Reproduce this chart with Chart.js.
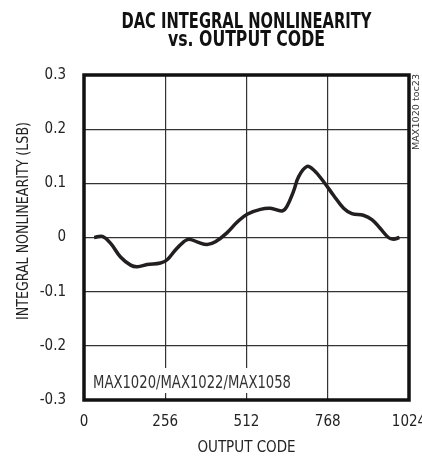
<!DOCTYPE html>
<html>
<head>
<meta charset="utf-8">
<script src="https://cdn.jsdelivr.net/npm/chart.js@4.4.0/dist/chart.umd.min.js"></script>
<style>
  html, body { margin: 0; padding: 0; background: #fff; }
  canvas { display: block; }
</style>
</head>
<body>
<canvas id="inlChart" width="422" height="458"></canvas>
<script>
// values
const outputCode = [32, 58, 84, 115, 147, 168, 199, 241, 262, 288, 314, 330, 356, 388, 414, 451, 482, 514, 556, 587, 624, 639, 660, 676, 702, 723, 755, 786, 818, 844, 880, 907, 933, 959, 975, 994];
const inlLsb = [0, 0.002, -0.011, -0.036, -0.051, -0.054, -0.05, -0.047, -0.041, -0.023, -0.008, -0.003, -0.008, -0.013, -0.008, 0.009, 0.028, 0.043, 0.052, 0.054, 0.049, 0.057, 0.085, 0.112, 0.131, 0.125, 0.103, 0.078, 0.054, 0.044, 0.041, 0.033, 0.017, 0, -0.003, 0];
const xTicks = [0, 256, 512, 768, 1024];
const yTicks = [-0.3, -0.2, -0.1, 0, 0.1, 0.2, 0.3];

const titleLines = ['DAC INTEGRAL NONLINEARITY', 'vs. OUTPUT CODE'];
const yTitle = 'INTEGRAL NONLINEARITY (LSB)';
const partLabel = 'MAX1020/MAX1022/MAX1058';
const tocLabel = 'MAX1020 toc23';

const FONT = "'Liberation Sans Narrow', 'DejaVu Sans Condensed', 'Liberation Sans', sans-serif";

// draw text squeezed to a given width (the original uses a condensed face)
function fitText(ctx, text, x, y, width) {
    const w = ctx.measureText(text).width;
    ctx.save();
    ctx.translate(x, y);
    if (w > width) ctx.scale(width / w, 1);
    ctx.fillText(text, 0, 0);
    ctx.restore();
}

const extras = {
    id: 'extras',
    beforeDatasetsDraw(chart) {
        const ctx = chart.ctx;
        const a = chart.chartArea;
        // white patch behind the part number, it cuts the grid lines
        ctx.save();
        ctx.fillStyle = '#fff';
        ctx.fillRect(a.left + 5, a.bottom - 32, 208, 25);
        ctx.fillStyle = '#333';
        ctx.font = '17px ' + FONT;
        ctx.textAlign = 'left';
        ctx.textBaseline = 'alphabetic';
        fitText(ctx, partLabel, a.left + 9, a.bottom - 12, 198);
        ctx.restore();
    },
    afterDatasetsDraw(chart) {
        const ctx = chart.ctx;
        const a = chart.chartArea;
        ctx.save();
        ctx.strokeStyle = '#111';
        ctx.lineWidth = 3.5;
        ctx.strokeRect(a.left, a.top, a.right - a.left, a.bottom - a.top);
        ctx.restore();
    },
    afterDraw(chart) {
        const ctx = chart.ctx;
        const a = chart.chartArea;
        const cx = (a.left + a.right) / 2;
        ctx.save();
        ctx.fillStyle = '#111';
        ctx.font = 'bold 21px ' + FONT;
        ctx.textAlign = 'center';
        ctx.textBaseline = 'middle';
        fitText(ctx, titleLines[0], cx, 22.5, 250);
        fitText(ctx, titleLines[1], cx, 41, 157);

        // y axis title, sits a bit above the plot centre in the original
        ctx.fillStyle = '#222';
        ctx.font = '16px ' + FONT;
        ctx.save();
        ctx.translate(24, 221);
        ctx.rotate(-Math.PI / 2);
        fitText(ctx, yTitle, 0, 0, 198);
        ctx.restore();

        // small rotated figure id on the right
        ctx.translate(416.5, 112);
        ctx.rotate(-Math.PI / 2);
        ctx.font = '9px ' + FONT;
        const w = ctx.measureText(tocLabel).width;
        ctx.scale(76 / w, 1);
        ctx.fillStyle = '#333';
        ctx.fillText(tocLabel, 0, 0);
        ctx.restore();
    }
};

const ctx = document.getElementById('inlChart');
const inlChart = new Chart(ctx, {
    type: 'line',
    data: {
        datasets: [{
            data: outputCode.map((c, i) => ({ x: c, y: inlLsb[i] })),
            borderColor: '#231f20',
            borderWidth: 3.5,
            pointRadius: 0,
            tension: 0.4,
            fill: false
        }]
    },
    options: {
        responsive: false,
        animation: false,
        layout: {
            autoPadding: false,
            padding: { left: 0, right: 13, top: 75, bottom: 0 }
        },
        plugins: {
            legend: { display: false },
            title: { display: false },
            tooltip: { enabled: false }
        },
        scales: {
            x: {
                type: 'linear',
                min: 0,
                max: 1024,
                afterBuildTicks: s => { s.ticks = xTicks.map(v => ({ value: v })); },
                afterFit: s => { s.height = 58; s.paddingLeft = 0; s.paddingRight = 0; },
                grid: { color: '#333', lineWidth: 1.2, drawTicks: false },
                border: { display: false },
                ticks: {
                    padding: 13,
                    color: '#222',
                    maxRotation: 0,
                    autoSkip: false,
                    font: { family: FONT, size: 15 },
                    callback: v => String(v)
                },
                title: {
                    display: true,
                    text: 'OUTPUT CODE',
                    color: '#222',
                    padding: 1,
                    font: { family: FONT, size: 15 }
                }
            },
            y: {
                min: -0.3,
                max: 0.3,
                afterBuildTicks: s => { s.ticks = yTicks.map(v => ({ value: v })); },
                afterFit: s => { s.width = 84; s.paddingTop = 0; s.paddingBottom = 0; },
                grid: { color: '#333', lineWidth: 1.2, drawTicks: false },
                border: { display: false },
                ticks: {
                    padding: 18,
                    color: '#222',
                    autoSkip: false,
                    font: { family: FONT, size: 15 },
                    callback: v => {
                        const r = Math.round(v * 10) / 10;
                        return r === 0 ? '0' : String(r);
                    }
                }
            }
        }
    },
    plugins: [extras]
});
</script>
</body>
</html>
